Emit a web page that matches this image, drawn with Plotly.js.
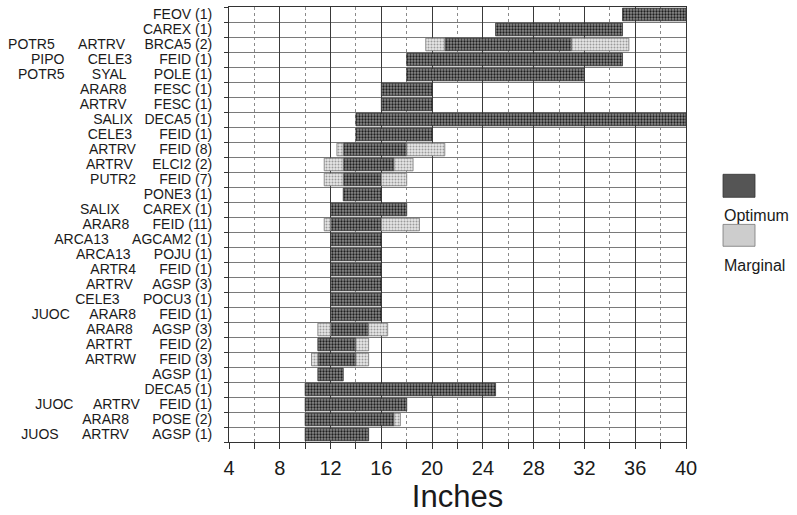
<!DOCTYPE html>
<html>
<head>
<meta charset="utf-8">
<script src="https://cdn.plot.ly/plotly-3.0.1.min.js"></script>
<style>html,body{margin:0;padding:0;background:#fff;}#chart{width:797px;height:515px;}</style>
</head>
<body>
<div id="chart"></div>
<script>
// Row labels ({n} = n spaces of padding between the label columns)
const rowLabels = [
  "FEOV (1)",
  "CAREX (1)",
  "POTR5{6}ARTRV{5}BRCA5 (2)",
  "PIPO{6}CELE3{7}FEID (1)",
  "POTR5{7}SYAL{7}POLE (1)",
  "ARAR8{7}FESC (1)",
  "ARTRV{7}FESC (1)",
  "SALIX{3}DECA5 (1)",
  "CELE3{7}FEID (1)",
  "ARTRV{6}FEID (8)",
  "ARTRV{5}ELCI2 (2)",
  "PUTR2{6}FEID (7)",
  "PONE3 (1)",
  "SALIX{6}CAREX (1)",
  "ARAR8{6}FEID (11)",
  "ARCA13{6}AGCAM2 (1)",
  "ARCA13{6}POJU (1)",
  "ARTR4{6}FEID (1)",
  "ARTRV{5}AGSP (3)",
  "CELE3{6}POCU3 (1)",
  "JUOC{5}ARAR8{6}FEID (1)",
  "ARAR8{5}AGSP (3)",
  "ARTRT{7}FEID (2)",
  "ARTRW{6}FEID (3)",
  "AGSP (1)",
  "DECA5 (1)",
  "JUOC{5}ARTRV{5}FEID (1)",
  "ARAR8{6}POSE (2)",
  "JUOS{6}ARTRV{6}AGSP (1)"
];
// Optimum range (inches)
const optStart = [35,25,21,18,18,16,16,14,14,13,13,13,13,12,12,12,12,12,12,12,12,12,11,11,11,10,10,10,10];
const optEnd   = [40,35,31,35,32,20,20,40,20,18,17,16,16,18,16,16,16,16,16,16,16,15,14,14,13,25,18,17,15];
// Marginal range below / above the optimum (null = none)
const margLow  = [null,null,19.5,null,null,null,null,null,null,12.5,11.5,11.5,null,null,11.5,null,null,null,null,null,null,11,null,10.5,null,null,null,null,null];
const margHigh = [null,null,35.5,null,null,null,null,null,null,21,18.5,18,null,null,19,null,null,null,null,null,null,16.5,15,15,null,null,null,17.5,null];
const xTicks = [4,8,12,16,20,24,28,32,36,40];
const xTitle = "Inches";
const legendNames = ["Optimum", "Marginal"];

const NB = "\u00a0";
const ticktext = rowLabels.map(s => s.replace(/\{(\d+)\}/g, (m, n) => NB.repeat(+n)).replace(/ /g, NB));
const idx = rowLabels.map((_, i) => i);

const darkCol = '#555555';
const lightCol = '#cdcdcd';
const darkPattern = {shape: '.', fgcolor: '#1e1e1e', bgcolor: '#8a8a8a', size: 3, solidity: 0.45};
const lightPattern = {shape: '.', fgcolor: '#9a9a9a', bgcolor: '#e6e6e6', size: 3, solidity: 0.35};

const BW = 0.84;
const traces = [];
traces.push({
  type: 'bar', orientation: 'h', name: legendNames[0], showlegend: false,
  y: idx, base: optStart, x: optStart.map((s, i) => optEnd[i] - s), width: BW,
  marker: {color: darkCol, pattern: darkPattern, line: {color: '#333', width: 0.8}},
  hoverinfo: 'skip'
});
const loI = idx.filter(i => margLow[i] !== null);
traces.push({
  type: 'bar', orientation: 'h', name: legendNames[1], showlegend: false,
  y: loI, base: loI.map(i => margLow[i]), x: loI.map(i => optStart[i] - margLow[i]), width: BW,
  marker: {color: lightCol, pattern: lightPattern, line: {color: '#777', width: 0.8}},
  hoverinfo: 'skip'
});
const hiI = idx.filter(i => margHigh[i] !== null);
traces.push({
  type: 'bar', orientation: 'h', name: legendNames[1], showlegend: false,
  y: hiI, base: hiI.map(i => optEnd[i]), x: hiI.map(i => margHigh[i] - optEnd[i]), width: BW,
  marker: {color: lightCol, pattern: lightPattern, line: {color: '#777', width: 0.8}},
  hoverinfo: 'skip'
});

const font = 'Arial, "Liberation Sans", Helvetica, sans-serif';
const layout = {
  width: 797, height: 515,
  margin: {l: 229, r: 111, t: 7, b: 73, pad: 0},
  paper_bgcolor: '#fff', plot_bgcolor: '#fff',
  barmode: 'overlay',
  showlegend: false,
  font: {family: font, color: '#1a1a1a'},
  xaxis: {
    range: [4, 40], tickvals: xTicks, ticktext: xTicks.map(String),
    showgrid: true, gridcolor: '#3a3a3a', gridwidth: 1,
    ticks: 'outside', ticklen: 6, tickcolor: '#333',
    ticklabelstandoff: 2,
    tickfont: {size: 20, family: font, color: '#1a1a1a'},
    minor: {dtick: 2, tick0: 0, showgrid: true, gridcolor: '#8a8a8a', griddash: 'dot', gridwidth: 1, ticks: 'outside', ticklen: 6, tickcolor: '#333'},
    showline: true, linecolor: '#333', linewidth: 1, mirror: true,
    zeroline: false,
    title: {text: xTitle, font: {size: 31, family: font, color: '#1a1a1a'}, standoff: 4}
  },
  yaxis: {
    range: [28.5, -0.5], tickvals: idx, ticktext: ticktext,
    showgrid: false, ticks: '', ticklabelstandoff: 13,
    tickfont: {size: 14, family: font, color: '#1a1a1a'},
    minor: {tick0: 0.5, dtick: 1, showgrid: true, gridcolor: '#7a7a7a', gridwidth: 1, ticks: 'outside', ticklen: 4, tickcolor: '#333'},
    showline: true, linecolor: '#333', linewidth: 1, mirror: true,
    zeroline: false
  },
  shapes: [
    {type: 'rect', xref: 'paper', yref: 'paper', x0: 1.081, x1: 1.151, y0: 0.5625, y1: 0.6154,
     fillcolor: darkCol, line: {color: '#333', width: 0.8}},
    {type: 'rect', xref: 'paper', yref: 'paper', x0: 1.081, x1: 1.151, y0: 0.4499, y1: 0.5002,
     fillcolor: lightCol, line: {color: '#777', width: 0.8}}
  ],
  annotations: [
    {xref: 'paper', yref: 'paper', x: 1.078, y: 0.521, xanchor: 'left', yanchor: 'middle', showarrow: false,
     text: legendNames[0], font: {size: 16, family: font, color: '#1a1a1a'}},
    {xref: 'paper', yref: 'paper', x: 1.078, y: 0.406, xanchor: 'left', yanchor: 'middle', showarrow: false,
     text: legendNames[1], font: {size: 16, family: font, color: '#1a1a1a'}}
  ]
};
Plotly.newPlot('chart', traces, layout, {staticPlot: true, displayModeBar: false});
</script>
</body>
</html>
